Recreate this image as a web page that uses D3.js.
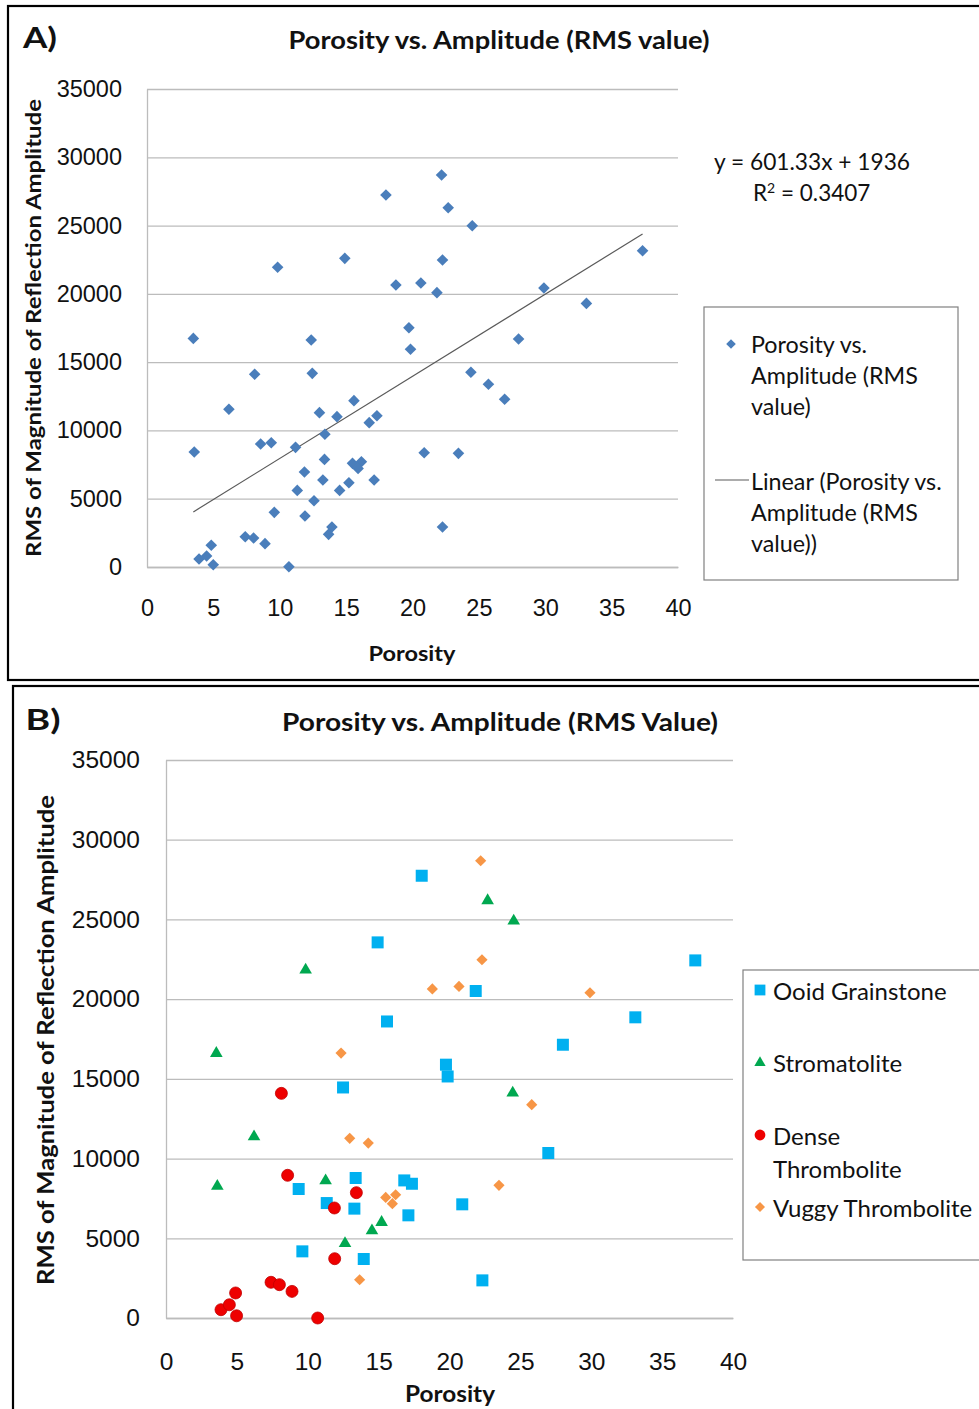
<!DOCTYPE html>
<html>
<head>
<meta charset="utf-8">
<script src="https://cdn.jsdelivr.net/npm/d3@7"></script>
<style>
  html, body { margin: 0; padding: 0; background: #fff; }
  svg { display: block; font-family: Lato, "Open Sans", sans-serif; }
</style>
</head>
<body>
<svg id="chart" width="979" height="1409"></svg>
<script>
// ---- Panel A: all samples, one series ----
const porosityA = [
  18.0, 14.9, 9.84, 18.75, 3.49, 12.37, 8.11, 12.45, 6.17, 15.59,
  12.99, 14.31, 16.74, 17.32, 13.4, 3.56, 8.56, 9.36, 11.19, 13.37,
  15.48, 16.15, 15.9, 11.86, 13.25, 17.11, 11.32, 14.51, 15.21, 12.58,
  9.59, 11.9, 13.93, 13.68, 7.4, 8.03, 8.89, 4.84, 3.92, 4.49,
  4.99, 10.69, 22.19, 22.69, 24.5, 37.33, 22.26, 20.63, 21.84, 29.9,
  33.1, 19.73, 19.85, 27.99, 24.4, 25.72, 26.94, 20.88, 23.46, 22.26
];
const amplitudeA = [
  27240, 22600, 21950, 20650, 16740, 16620, 14110, 14180, 11550, 12180,
  11300, 11010, 10570, 11080, 9720, 8420, 9010, 9100, 8760, 7880,
  7590, 7710, 7220, 6960, 6370, 6370, 5610, 5610, 6170, 4850,
  4000, 3730, 2930, 2390, 2220, 2120, 1710, 1590, 590, 810,
  170, 20, 28700, 26310, 24990, 23160, 22480, 20800, 20090, 20430,
  19300, 17520, 15940, 16700, 14260, 13380, 12280, 8370, 8320, 2930
];
// Least-squares fit printed on the chart
const fitSlope = 601.33;
const fitIntercept = 1936;
const fitR2 = "0.3407";

// ---- Panel B: samples grouped by facies, [porosity, amplitude] ----
const ooidGrainstone = [
  [18.04, 27740], [14.93, 23560], [15.59, 18600], [19.75, 15890], [19.87, 15150],
  [12.49, 14460], [13.38, 8780], [9.36, 8090], [16.81, 8630], [17.35, 8420],
  [11.34, 7210], [13.29, 6860], [17.1, 6440], [9.62, 4180], [13.95, 3700],
  [21.85, 20510], [37.34, 22430], [33.11, 18860], [28.0, 17140], [26.97, 10350],
  [20.9, 7130], [22.32, 2360]
];
const stromatolite = [
  [9.85, 21890], [3.55, 16660], [6.21, 11430], [3.62, 8320], [11.26, 8670],
  [15.21, 6060], [14.53, 5540], [12.63, 4740], [22.69, 26240], [24.53, 24960],
  [24.46, 14180]
];
const denseThrombolite = [
  [8.14, 14090], [8.58, 8950], [13.43, 7860], [11.88, 6900], [11.9, 3720],
  [7.41, 2240], [8.0, 2090], [8.89, 1670], [4.91, 1570], [3.88, 520],
  [4.47, 830], [4.98, 140], [10.7, 0]
];
const vuggyThrombolite = [
  [18.79, 20640], [12.35, 16620], [12.96, 11270], [14.27, 10970], [15.5, 7560],
  [16.2, 7730], [15.97, 7170], [13.66, 2400], [22.2, 28680], [22.29, 22470],
  [20.67, 20800], [29.91, 20400], [25.8, 13380], [23.49, 8320]
];

// ---- Tick values ----
const xTicks = [0, 5, 10, 15, 20, 25, 30, 35, 40];
const yTicks = [0, 5000, 10000, 15000, 20000, 25000, 30000, 35000];

const svg = d3.select("#chart");
svg.append("rect").attr("width", 979).attr("height", 1409).attr("fill", "#fff");

const gridColor = "#bcbcbc";
const textColor = "#111";

const diamondPath = r => `M0,${-r}L${r},0L0,${r}L${-r},0Z`;

function drawAxes(g, x, y, opt) {
  const [x0, x1] = x.range();
  const [y0] = y.range();
  // horizontal gridlines with value labels
  const ya = d3.axisLeft(y).tickValues(yTicks).tickSize(-(x1 - x0))
    .tickSizeOuter(0).tickPadding(opt.yPad).tickFormat(d3.format("d"));
  const gy = g.append("g").attr("transform", `translate(${x0},0)`).call(ya);
  gy.selectAll(".tick line").attr("stroke", gridColor).attr("stroke-width", 1.3);
  gy.select(".domain").attr("stroke", gridColor).attr("stroke-width", 1.3);
  gy.selectAll("text").attr("fill", textColor).style("font-size", opt.tickFont + "px");

  const xa = d3.axisBottom(x).tickValues(xTicks).tickSize(0).tickPadding(opt.xPad);
  const gx = g.append("g").attr("transform", `translate(0,${y0})`).call(xa);
  gx.select(".domain").attr("stroke", gridColor).attr("stroke-width", 1.3);
  gx.selectAll("text").attr("fill", textColor).style("font-size", opt.tickFont + "px");
}

function boldText(g, txt, x, y, size, len, rotate) {
  const t = g.append("text")
    .attr("x", x).attr("y", y)
    .attr("text-anchor", "middle").attr("dominant-baseline", "central")
    .attr("font-weight", "bold").attr("fill", textColor)
    .style("font-size", size + "px")
    .text(txt);
  if (len) t.attr("textLength", len).attr("lengthAdjust", "spacingAndGlyphs");
  if (rotate) t.attr("transform", `rotate(-90,${x},${y})`);
  return t;
}

// =================== Panel A ===================
const gA = svg.append("g");
gA.append("rect").attr("x", 8).attr("y", 6).attr("width", 1000).attr("height", 674)
  .attr("fill", "none").attr("stroke", "#000").attr("stroke-width", 2.2);

const xA = d3.scaleLinear().domain([0, 40]).range([147, 678]);
const yA = d3.scaleLinear().domain([0, 35000]).range([567, 89]);

drawAxes(gA, xA, yA, { yPad: 25, xPad: 32, tickFont: 23.5 });

boldText(gA, "A)", 40, 37, 28, 34);
boldText(gA, "Porosity vs. Amplitude (RMS value)", 499, 39, 24, 421);
boldText(gA, "RMS of Magnitude of Reflection Amplitude", 32, 328, 21, 458, true);
boldText(gA, "Porosity", 412, 652, 21, 87);

// trend line across the data's porosity range
const ptsA = porosityA.map((p, i) => [p, amplitudeA[i]]);
const trendX = d3.extent(porosityA);
gA.append("line")
  .attr("x1", xA(trendX[0])).attr("y1", yA(fitSlope * trendX[0] + fitIntercept))
  .attr("x2", xA(trendX[1])).attr("y2", yA(fitSlope * trendX[1] + fitIntercept))
  .attr("stroke", "#5a5a5a").attr("stroke-width", 1.2);

gA.append("g").selectAll("path").data(ptsA).join("path")
  .attr("d", diamondPath(5.8))
  .attr("transform", d => `translate(${xA(d[0])},${yA(d[1])})`)
  .attr("fill", "#4a7ebb");

// regression label
const eq = gA.append("g").attr("fill", textColor).style("font-size", "22.5px");
eq.append("text").attr("x", 714).attr("y", 170).attr("textLength", 196)
  .attr("lengthAdjust", "spacingAndGlyphs")
  .text(`y = ${fitSlope}x + ${fitIntercept}`);
const r2 = eq.append("text").attr("x", 753).attr("y", 201);
r2.append("tspan").text("R");
r2.append("tspan").attr("dy", -8).style("font-size", "14px").text("2");
r2.append("tspan").attr("dy", 8).text(` = ${fitR2}`);

// legend A
const legA = gA.append("g");
legA.append("rect").attr("x", 704).attr("y", 307).attr("width", 254).attr("height", 273)
  .attr("fill", "#fff").attr("stroke", "#808080").attr("stroke-width", 1.2);
legA.append("path").attr("d", diamondPath(4.8))
  .attr("transform", "translate(731,344)").attr("fill", "#4a7ebb");
legA.append("line").attr("x1", 715).attr("x2", 749).attr("y1", 480).attr("y2", 480)
  .attr("stroke", "#5a5a5a").attr("stroke-width", 1.2);
const legALines = [
  ["Porosity vs.", 344], ["Amplitude (RMS", 375], ["value)", 406],
  ["Linear (Porosity vs.", 481], ["Amplitude (RMS", 512], ["value))", 543]
];
legA.selectAll("text").data(legALines).join("text")
  .attr("x", 751).attr("y", d => d[1]).attr("dominant-baseline", "central")
  .attr("fill", textColor).style("font-size", "23.3px")
  .text(d => d[0]);

// =================== Panel B ===================
const gB = svg.append("g");
gB.append("rect").attr("x", 13).attr("y", 686).attr("width", 1000).attr("height", 760)
  .attr("fill", "none").attr("stroke", "#000").attr("stroke-width", 2.2);

const xB = d3.scaleLinear().domain([0, 40]).range([166, 733]);
const yB = d3.scaleLinear().domain([0, 35000]).range([1318, 760]);

drawAxes(gB, xB, yB, { yPad: 26, xPad: 35, tickFont: 24.5 });

boldText(gB, "B)", 43, 718, 29, 35);
boldText(gB, "Porosity vs. Amplitude (RMS Value)", 500, 721, 25, 436);
boldText(gB, "RMS of Magnitude of Reflection Amplitude", 45, 1040, 22, 490, true);
boldText(gB, "Porosity", 450, 1393, 22, 90);

const facies = [
  { name: "Ooid Grainstone", data: ooidGrainstone, color: "#00b0f0",
    shape: s => `M${-s},${-s}h${2 * s}v${2 * s}h${-2 * s}Z`, size: 6 },
  { name: "Stromatolite", data: stromatolite, color: "#00a850",
    shape: s => `M0,${-s * 1.05}L${s * 1.05},${s * 0.75}L${-s * 1.05},${s * 0.75}Z`, size: 6 },
  { name: "Dense Thrombolite", data: denseThrombolite, color: "#ee0000",
    shape: s => `M${-s},0A${s},${s} 0 1,0 ${s},0A${s},${s} 0 1,0 ${-s},0Z`, size: 6 },
  { name: "Vuggy Thrombolite", data: vuggyThrombolite, color: "#f79646",
    shape: s => diamondPath(s), size: 5.6 }
];

facies.forEach(f => {
  gB.append("g").selectAll("path").data(f.data).join("path")
    .attr("d", f.shape(f.size))
    .attr("transform", d => `translate(${xB(d[0])},${yB(d[1])})`)
    .attr("fill", f.color)
    .attr("stroke", f.name === "Dense Thrombolite" ? "#c00000" : "none")
    .attr("stroke-width", 0.8);
});

// legend B
const legB = gB.append("g");
legB.append("rect").attr("x", 743).attr("y", 970).attr("width", 250).attr("height", 290)
  .attr("fill", "#fff").attr("stroke", "#808080").attr("stroke-width", 1.2);
const legBRows = [
  { f: facies[0], y: 990, lines: ["Ooid Grainstone"] },
  { f: facies[1], y: 1062, lines: ["Stromatolite"] },
  { f: facies[2], y: 1135, lines: ["Dense", "Thrombolite"] },
  { f: facies[3], y: 1207, lines: ["Vuggy Thrombolite"] }
];
legBRows.forEach(r => {
  legB.append("path").attr("d", r.f.shape(r.f.size * 0.9))
    .attr("transform", `translate(760,${r.y})`).attr("fill", r.f.color);
  r.lines.forEach((ln, i) => {
    legB.append("text").attr("x", 773).attr("y", r.y + i * 33)
      .attr("dominant-baseline", "central").attr("fill", textColor)
      .style("font-size", "24px").text(ln);
  });
});
</script>
</body>
</html>
